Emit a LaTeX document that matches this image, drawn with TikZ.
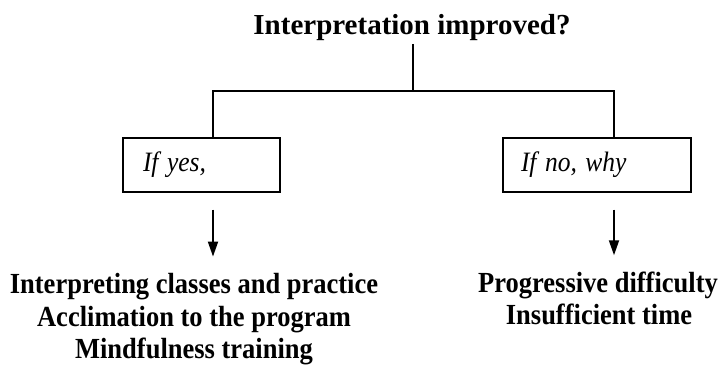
\documentclass[tikz,border=0pt]{standalone}
\usepackage{fontspec}
\setmainfont{Liberation Serif}
\usetikzlibrary{arrows.meta}
% slightly tall lettering for the boxes and the reason lists
\newcommand{\tallset}[1]{\scalebox{1}[1.1]{#1}}

\begin{document}
\begin{tikzpicture}[x=1pt,y=-1pt,
  wire/.style={line width=1.8pt},
  choicebox/.style={draw,line width=1.3pt,minimum height=54pt,align=left,
    inner ysep=0pt,font=\fontsize{25.5}{30}\selectfont\itshape},
  heading/.style={font=\fontsize{29}{35}\selectfont\bfseries,anchor=base},
  item/.style={font=\fontsize{26.5}{33}\selectfont\bfseries,anchor=base,inner sep=0pt},
  arr/.style={line width=1.8pt,-{Triangle[width=10pt,length=15pt]}}]
\useasboundingbox (0,0) rectangle (722,364);

% question at the top
\node[heading,inner ysep=3.5pt] (title) at (412,34) {Interpretation improved?};

% branching points
\coordinate (j)  at (413,91);
\coordinate (lc) at (213,91);
\coordinate (rc) at (614,91);

% answer boxes
\node[choicebox,text width=117pt,inner xsep=20pt] (yes) at (201.5,165) {\tallset{If yes,}};
\node[choicebox,text width=152pt,inner xsep=18pt] (no)  at (597,165)   {\tallset{If no, why}};

% listed reasons
\node[item] (y1) at (194,293) {\tallset{Interpreting classes and practice}};
\node[item] (y2) at (194,326) {\tallset{Acclimation to the program}};
\node[item] (y3) at (194,358) {\tallset{Mindfulness training}};
\node[item] (n1) at (598,292) {\tallset{Progressive difficulty}};
\node[item] (n2) at (599,324) {\tallset{Insufficient time}};

% tree lines
\draw[wire] (title.south -| j) -- (j);
\draw[wire] (yes.north -| lc) -- (lc) -- (rc) -- (no.north -| rc);

% arrows to the reasons
\draw[arr] ([yshift=-17pt]yes.south -| lc) -- ([yshift=16pt]y1.north -| lc);
\draw[arr] ([yshift=-17pt]no.south -| rc) -- ([yshift=16pt]n1.north -| rc);
\end{tikzpicture}
\end{document}
